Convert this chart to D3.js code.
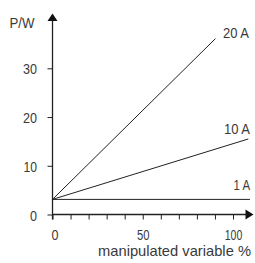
<!DOCTYPE html>
<html><head><meta charset="utf-8">
<script src="https://cdn.jsdelivr.net/npm/d3@7"></script>
<style>body{margin:0;background:#fff}svg{display:block}text{font-family:"Liberation Sans",Arial,sans-serif;fill:#3a3a3a}</style>
</head><body><svg id="c" width="255" height="263"></svg>
<script>
const seriesNames = ["1 A", "10 A", "20 A"];
const startValues = [3.1, 3.1, 3.1];
const endX = [109.4, 108.5, 90.3];
const endValues = [3.1, 15.5, 36.1];
const xTicks = [0, 10, 20, 30, 40, 50, 60, 70, 80, 90, 100];
const xTickLabels = [0, 50, 100];
const yTicks = [0, 10, 20, 30];

const svg = d3.select("#c");
const x = d3.scaleLinear().domain([0, 100]).range([52.5, 233]);
const y = d3.scaleLinear().domain([0, 30]).range([214.5, 68.3]);
const col = "#222";
const fs = 15.5;

const wOf = s => ({"0": 7, "10": 13.5, "20": 14, "30": 14, "50": 12.5, "100": 17.5}[s]);

svg.append("line").attr("x1", x(0)).attr("x2", 247).attr("y1", y(0)).attr("y2", y(0)).attr("stroke", col).attr("stroke-width", 1.3);
svg.append("line").attr("x1", x(0)).attr("x2", x(0)).attr("y1", y(0) + 5).attr("y2", 20).attr("stroke", col).attr("stroke-width", 1.3);
svg.append("path").attr("d", `M${x(0)-5},${21} L${x(0)},${13.5} L${x(0)+5},${21} Z`).attr("fill", "#111");
svg.append("path").attr("d", `M${245.5},${y(0)-5} L${253.5},${y(0)} L${245.5},${y(0)+5} Z`).attr("fill", "#111");

const xa = svg.append("g").attr("transform", `translate(0,${y(0)})`)
  .call(d3.axisBottom(x).tickValues(xTicks).tickSize(5).tickFormat(d => xTickLabels.includes(d) ? d : ""));
xa.select(".domain").remove();
xa.selectAll("line").attr("stroke", col).attr("stroke-width", 1);
xa.selectAll("text").attr("font-size", fs).attr("y", 25).attr("dy", null).style("fill", "#3a3a3a")
  .each(function(d){ if (xTickLabels.includes(d)) d3.select(this).attr("textLength", wOf(String(d))).attr("lengthAdjust", "spacingAndGlyphs"); });
xa.selectAll(".tick").filter(d => d === 0).select("text").attr("dx", 2);

const ya = svg.append("g").attr("transform", `translate(${x(0)},0)`)
  .call(d3.axisLeft(y).tickValues(yTicks).tickSize(5).tickFormat(d3.format("d")));
ya.select(".domain").remove();
ya.selectAll("line").attr("stroke", col).attr("stroke-width", 1);
ya.selectAll("text").attr("font-size", fs).attr("x", -15.5).attr("dy", "0.36em").style("fill", "#3a3a3a")
  .each(function(d){ d3.select(this).attr("textLength", wOf(String(d))).attr("lengthAdjust", "spacingAndGlyphs"); });

seriesNames.forEach((n, i) => {
  svg.append("line").attr("x1", x(0)).attr("y1", y(startValues[i])).attr("x2", x(endX[i])).attr("y2", y(endValues[i]))
    .attr("stroke", col).attr("stroke-width", 1);
});
const labelPos = [[233.5, 190], [224, 134], [223, 38]];
const labelW = [16.5, 26, 26];
seriesNames.forEach((n, i) => {
  svg.append("text").attr("x", labelPos[i][0]).attr("y", labelPos[i][1]).attr("font-size", fs)
    .attr("textLength", labelW[i]).attr("lengthAdjust", "spacingAndGlyphs").text(n);
});

svg.append("text").attr("x", 9.5).attr("y", 28.3).attr("font-size", fs).attr("textLength", 25).attr("lengthAdjust", "spacingAndGlyphs").text("P/W");
svg.append("text").attr("x", 98).attr("y", 255.5).attr("font-size", 14.5).attr("textLength", 153).attr("lengthAdjust", "spacingAndGlyphs").text("manipulated variable %");
</script></body></html>
